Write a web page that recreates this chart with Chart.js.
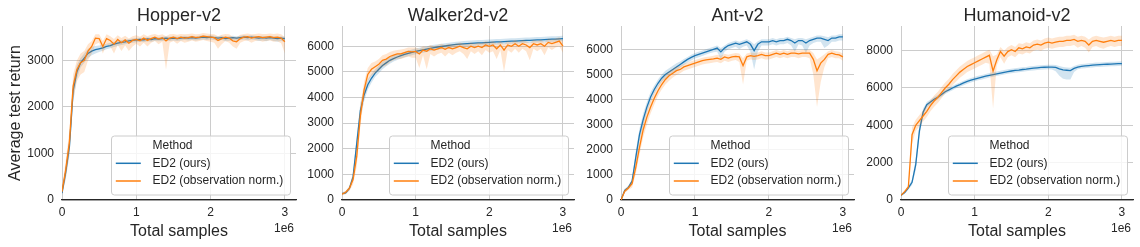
<!DOCTYPE html>
<html>
<head>
<meta charset="utf-8">
<script src="https://cdn.jsdelivr.net/npm/chart.js@4/dist/chart.umd.min.js"></script>
<style>
  body { margin: 0; background: #fff; width: 1140px; height: 247px; overflow: hidden; position: relative; }
  canvas { position: absolute; top: 0; }
</style>
</head>
<body>
<canvas id="c0" width="300" height="247" style="left:0px"></canvas>
<canvas id="c1" width="280" height="247" style="left:300px"></canvas>
<canvas id="c2" width="280" height="247" style="left:580px"></canvas>
<canvas id="c3" width="280" height="247" style="left:860px"></canvas>
<script>
// Total samples (x 1e6)
const samples = [0,0.05,0.1,0.15,0.2,0.25,0.3,0.35,0.4,0.45,0.5,0.55,0.6,0.65,0.7,0.75,0.8,0.85,0.9,0.95,
  1,1.05,1.1,1.15,1.2,1.25,1.3,1.35,1.4,1.45,1.5,1.55,1.6,1.65,1.7,1.75,1.8,1.85,1.9,1.95,
  2,2.05,2.1,2.15,2.2,2.25,2.3,2.35,2.4,2.45,2.5,2.55,2.6,2.65,2.7,2.75,2.8,2.85,2.9,2.95,3];

const xTicks = [0, 1, 2, 3];
const envNames = ["Hopper-v2", "Walker2d-v2", "Ant-v2", "Humanoid-v2"];
const methodNames = ["ED2 (ours)", "ED2 (observation norm.)"];
const yTicksHopper = [0, 1000, 2000, 3000];
const yTicksWalker = [0, 1000, 2000, 3000, 4000, 5000, 6000];
const yTicksAnt = [0, 1000, 2000, 3000, 4000, 5000, 6000];
const yTicksHumanoid = [0, 2000, 4000, 6000, 8000];

// Hopper
const hopperOurs = [150,600,1150,2350,2750,2950,3050,3150,3200,3230,3250,3270,3300,3320,3350,3370,3390,3400,3420,3430,3440,3450,3440,3460,3450,3470,3460,3470,3480,3470,3480,3470,3480,3490,3480,3490,3480,3490,3500,3490,3500,3490,3480,3490,3470,3480,3490,3480,3490,3500,3490,3500,3490,3480,3490,3480,3490,3480,3470,3480,3470];
const hopperOursLo = [100,450,950,2100,2600,2850,2950,3050,3110,3150,3180,3210,3240,3260,3290,3310,3330,3350,3370,3380,3390,3400,3390,3410,3400,3420,3410,3420,3430,3420,3430,3420,3430,3440,3430,3440,3430,3440,3450,3440,3450,3440,3420,3440,3410,3420,3440,3420,3440,3450,3430,3450,3440,3420,3430,3410,3440,3420,3400,3420,3400];
const hopperOursHi = [200,750,1350,2550,2900,3050,3150,3250,3290,3310,3320,3330,3360,3380,3400,3420,3440,3450,3460,3470,3480,3490,3480,3500,3490,3510,3500,3510,3520,3510,3520,3510,3520,3530,3520,3530,3520,3530,3540,3530,3540,3530,3520,3530,3510,3520,3530,3520,3530,3540,3530,3540,3530,3520,3530,3520,3530,3520,3510,3520,3510];
const hopperNorm = [180,650,1250,2450,2800,2950,3000,3200,3300,3480,3470,3300,3470,3430,3350,3450,3380,3440,3370,3430,3450,3420,3480,3430,3470,3500,3460,3490,3420,3480,3500,3470,3500,3480,3490,3510,3490,3500,3520,3510,3500,3490,3430,3470,3500,3480,3420,3400,3470,3500,3510,3480,3500,3510,3490,3500,3510,3490,3500,3480,3400];
const hopperNormLo = [120,450,1000,2150,2550,2700,2750,3000,3150,3350,3380,3150,3350,3300,3150,3330,3200,3320,3200,3300,3360,3300,3380,3300,3380,3420,3350,3400,2800,3380,3420,3360,3420,3380,3400,3430,3400,3420,3440,3420,3400,3380,3250,3350,3420,3380,3300,3250,3380,3420,3430,3380,3420,3430,3400,3420,3430,3400,3410,3370,3150];
const hopperNormHi = [250,850,1500,2700,3000,3150,3200,3350,3420,3560,3560,3420,3560,3520,3460,3540,3480,3530,3470,3520,3540,3510,3560,3520,3550,3570,3540,3560,3520,3560,3570,3550,3570,3560,3570,3580,3560,3570,3590,3580,3570,3560,3520,3550,3570,3560,3510,3500,3550,3570,3580,3560,3570,3580,3570,3570,3580,3570,3580,3560,3500];

// Walker2d
const walkerOurs = [250,280,450,900,2200,3500,4100,4500,4750,4950,5100,5250,5350,5450,5520,5580,5630,5680,5720,5760,5800,5830,5860,5890,5920,5950,5970,5990,6010,6030,6050,6070,6080,6090,6100,6110,6120,6130,6130,6140,6150,6160,6170,6170,6180,6190,6200,6200,6210,6220,6230,6230,6240,6250,6250,6260,6270,6280,6280,6290,6300];
const walkerOursLo = [200,220,380,750,1900,3200,3850,4300,4580,4800,4950,5100,5220,5320,5400,5460,5520,5570,5610,5650,5690,5720,5750,5780,5810,5840,5860,5880,5900,5920,5950,5970,5980,5990,6000,6010,6020,6030,6030,6040,6050,6060,6070,6070,6080,6090,6100,6100,6110,6120,6130,6130,6140,6150,6150,6160,6170,6180,6180,6190,6200];
const walkerOursHi = [300,340,520,1050,2500,3800,4350,4700,4920,5100,5250,5400,5480,5580,5640,5700,5740,5790,5830,5870,5910,5940,5970,6000,6030,6060,6080,6100,6120,6140,6160,6180,6190,6200,6210,6220,6230,6240,6240,6250,6260,6270,6280,6280,6290,6300,6310,6310,6320,6330,6340,6340,6350,6360,6360,6370,6380,6390,6390,6400,6410];
const walkerNorm = [230,300,450,800,1700,3300,4300,4900,5100,5200,5300,5450,5500,5600,5650,5700,5700,5750,5800,5780,5800,5700,5850,5800,5900,5850,5900,5950,5880,5950,5900,5950,6000,5950,5900,6000,5950,6000,5950,6050,6000,6050,5900,6050,5850,6050,6000,6100,6000,6100,6050,5950,6100,6050,6100,6000,6150,6100,6150,6200,6000];
const walkerNormLo = [180,240,350,600,1300,2900,4000,4650,4850,4950,5050,5200,5250,5380,5450,5500,5500,5550,5600,5550,5550,5150,5650,5100,5700,5600,5700,5750,5600,5750,5650,5750,5800,5700,5500,5800,5700,5800,5650,5850,5750,5800,5500,5850,5000,5850,5750,5900,5750,5900,5800,5450,5900,5800,5900,5650,5950,5850,5950,6000,5750];
const walkerNormHi = [280,360,550,1000,2100,3700,4600,5150,5350,5400,5500,5650,5700,5780,5820,5850,5870,5900,5950,5950,5950,5900,6000,5970,6050,6000,6050,6100,6050,6100,6070,6100,6150,6100,6080,6150,6100,6150,6120,6200,6150,6200,6100,6200,6080,6200,6150,6250,6150,6250,6200,6120,6250,6200,6250,6150,6300,6250,6300,6350,6200];

// Ant
const antOurs = [0,380,500,750,1700,2600,3200,3700,4100,4400,4650,4850,5000,5100,5200,5300,5400,5500,5600,5680,5750,5800,5850,5900,5950,6000,6050,5900,6050,6150,6200,6250,6200,6250,6300,6200,5950,6200,6300,6300,6300,6350,6300,6350,6350,6400,6350,6250,6350,6350,6250,6350,6400,6450,6450,6400,6350,6450,6450,6500,6500];
const antOursLo = [0,300,430,650,1450,2350,2950,3500,3900,4250,4500,4700,4850,4950,5050,5150,5280,5380,5480,5560,5640,5690,5740,5790,5840,5880,5900,5600,5900,6000,6050,6100,6000,6100,6150,5900,5200,5900,6150,6150,6150,6200,6150,6200,6200,6250,6150,5900,6200,6150,5850,6150,6250,6300,6300,6050,6150,6300,6300,6350,6350];
const antOursHi = [50,450,570,850,1950,2850,3450,3900,4300,4560,4800,5000,5150,5250,5350,5450,5520,5620,5700,5780,5850,5900,5950,6000,6050,6100,6150,6050,6150,6250,6300,6350,6300,6350,6400,6330,6200,6320,6400,6400,6400,6450,6400,6450,6450,6500,6450,6400,6450,6450,6400,6450,6500,6550,6550,6520,6480,6550,6550,6600,6600];
const antNorm = [0,350,480,650,1300,2100,2800,3300,3700,4050,4350,4600,4800,4950,5050,5150,5200,5300,5350,5400,5450,5500,5550,5580,5600,5620,5650,5600,5700,5650,5700,5720,5700,5350,5700,5750,5720,5750,5800,5750,5750,5800,5850,5800,5850,5800,5850,5850,5820,5850,5850,5850,5600,5150,5450,5600,5800,5850,5800,5780,5700];
const antNormLo = [0,280,400,500,1050,1800,2500,3000,3450,3800,4150,4400,4600,4750,4880,4980,5050,5150,5200,5250,5300,5350,5400,5430,5450,5480,5500,5450,5550,5500,5550,5580,5500,4600,5550,5600,5580,5600,5650,5600,5600,5650,5700,5650,5700,5650,5700,5700,5650,5700,5700,5650,5000,3700,4700,5300,5650,5700,5650,5650,5550];
const antNormHi = [50,420,560,800,1550,2400,3100,3600,3950,4300,4550,4800,4980,5120,5220,5300,5350,5430,5480,5530,5580,5620,5670,5700,5720,5750,5780,5750,5820,5780,5820,5850,5830,5650,5830,5870,5850,5870,5920,5870,5870,5920,5970,5920,5970,5920,5970,5970,5950,5970,5970,5970,5850,5600,5700,5800,5920,5970,5920,5900,5830];

// Humanoid
const humanoidOurs = [250,400,650,950,1900,3700,4700,5100,5250,5400,5500,5650,5800,5900,6000,6100,6180,6270,6350,6420,6480,6530,6580,6630,6680,6720,6760,6800,6840,6880,6910,6940,6960,6990,7010,7040,7060,7080,7100,7110,7120,7120,7100,7020,6970,6950,6930,7050,7120,7160,7180,7200,7220,7240,7250,7260,7270,7280,7290,7300,7310];
const humanoidOursLo = [200,330,550,800,1600,3400,4500,4950,5120,5280,5380,5530,5680,5780,5880,5980,6060,6150,6230,6300,6360,6410,6460,6510,6560,6600,6640,6680,6720,6760,6790,6820,6840,6870,6890,6920,6940,6960,6980,6990,7000,6990,6900,6650,6500,6450,6450,6850,7000,7040,7060,7080,7100,7120,7130,7140,7150,7160,7170,7180,7190];
const humanoidOursHi = [300,470,750,1100,2200,4000,4900,5250,5380,5520,5620,5770,5920,6020,6120,6220,6300,6390,6470,6540,6600,6650,6700,6750,6800,6840,6880,6920,6960,7000,7030,7060,7080,7110,7130,7160,7180,7200,7220,7230,7240,7240,7230,7180,7120,7100,7080,7180,7240,7280,7300,7320,7340,7360,7370,7380,7390,7400,7410,7420,7430];
const humanoidNorm = [250,450,700,3500,4000,4250,4500,4750,5050,5300,5500,5750,6000,6200,6450,6650,6850,7000,7150,7250,7350,7450,7550,7650,7750,6900,7500,7950,7700,7950,8050,7950,8150,8100,8200,8150,8300,8350,8300,8400,8450,8400,8450,8500,8500,8550,8550,8600,8500,8550,8500,8300,8500,8550,8500,8450,8500,8550,8500,8550,8550];
const humanoidNormLo = [200,380,600,3000,3700,3950,4200,4450,4750,5000,5200,5450,5700,5900,6150,6350,6550,6700,6850,6950,7050,7150,7250,7350,7300,4900,7200,7650,7300,7650,7750,7650,7850,7800,7900,7850,8000,8050,8000,8100,8150,8100,8150,8200,8200,8250,8250,8300,8150,8250,8150,7900,8200,8250,8150,8100,8200,8250,8200,8250,8250];
const humanoidNormHi = [300,520,800,3900,4300,4550,4800,5050,5350,5600,5800,6050,6300,6500,6750,6950,7150,7300,7450,7550,7650,7750,7850,7950,8050,7700,7800,8200,8000,8200,8300,8200,8400,8350,8450,8400,8550,8600,8550,8650,8700,8650,8700,8750,8750,8800,8800,8850,8750,8800,8750,8600,8750,8800,8750,8700,8750,8800,8750,8800,8800];

const BLUE = "#1f77b4";
const ORANGE = "#ff7f0e";
const TEXT = "#262626";
const GRID = "#cccccc";
const FONT = '"Liberation Sans", Arial, sans-serif';

Chart.defaults.font.family = FONT;
Chart.defaults.color = TEXT;

function pts(ys) {
  return samples.map((x, i) => ({ x: x, y: ys[i] }));
}

// Titel, Legende und Offset-Text "1e6"
const decor = {
  id: "decor",
  afterDraw(chart, args, opts) {
    const ctx = chart.ctx;
    const a = chart.chartArea;
    ctx.save();
    ctx.fillStyle = TEXT;
    ctx.textAlign = "center";
    ctx.textBaseline = "alphabetic";
    ctx.font = "18px " + FONT;
    ctx.fillText(opts.title, (a.left + a.right) / 2, 21);

    ctx.font = "12px " + FONT;
    ctx.textAlign = "right";
    ctx.fillText("1e6", a.right - 2, 232);

    // Legende
    const w = 179, h = 59;
    const bx = a.right - 5.5 - w, by = a.bottom - 5 - h;
    ctx.beginPath();
    ctx.roundRect(bx, by, w, h, 3);
    ctx.fillStyle = "rgba(255,255,255,0.8)";
    ctx.fill();
    ctx.strokeStyle = GRID;
    ctx.lineWidth = 1;
    ctx.stroke();

    ctx.textAlign = "left";
    ctx.textBaseline = "middle";
    ctx.fillStyle = TEXT;
    ctx.fillText("Method", bx + 41, by + 9.7);
    [[BLUE, methodNames[0], 27.3], [ORANGE, methodNames[1], 45]].forEach(([c, label, dy]) => {
      ctx.beginPath();
      ctx.moveTo(bx + 4.3, by + dy);
      ctx.lineTo(bx + 29.3, by + dy);
      ctx.strokeStyle = c;
      ctx.lineWidth = 1.5;
      ctx.stroke();
      ctx.fillStyle = TEXT;
      ctx.fillText(label, bx + 41, by + dy);
    });
    ctx.restore();
  }
};

const panels = [
  { id: "c0", title: envNames[0], yMax: 3740, yTicks: yTicksHopper, yw: 62, rp: 4, yTitle: true,
    ours: [hopperOurs, hopperOursLo, hopperOursHi], norm: [hopperNorm, hopperNormLo, hopperNormHi] },
  { id: "c1", title: envNames[1], yMax: 6790, yTicks: yTicksWalker, yw: 42, rp: 6, yTitle: false,
    ours: [walkerOurs, walkerOursLo, walkerOursHi], norm: [walkerNorm, walkerNormLo, walkerNormHi] },
  { id: "c2", title: envNames[2], yMax: 6930, yTicks: yTicksAnt, yw: 41, rp: 6, yTitle: false,
    ours: [antOurs, antOursLo, antOursHi], norm: [antNorm, antNormLo, antNormHi] },
  { id: "c3", title: envNames[3], yMax: 9320, yTicks: yTicksHumanoid, yw: 41, rp: 7, yTitle: false,
    ours: [humanoidOurs, humanoidOursLo, humanoidOursHi], norm: [humanoidNorm, humanoidNormLo, humanoidNormHi] }
];

panels.forEach(p => {
  const band = { pointRadius: 0, borderWidth: 0, tension: 0 };
  const line = { pointRadius: 0, borderWidth: 1.3, tension: 0, fill: false };
  new Chart(document.getElementById(p.id), {
    type: "line",
    data: {
      datasets: [
        { ...band, data: pts(p.ours[1]), fill: false, order: 3 },
        { ...band, data: pts(p.ours[2]), fill: "-1", backgroundColor: "rgba(31,119,180,0.2)", order: 3 },
        { ...line, data: pts(p.ours[0]), borderColor: BLUE, order: 2 },
        { ...band, data: pts(p.norm[1]), fill: false, order: 1 },
        { ...band, data: pts(p.norm[2]), fill: "-1", backgroundColor: "rgba(255,127,14,0.2)", order: 1 },
        { ...line, data: pts(p.norm[0]), borderColor: ORANGE, order: 0 }
      ]
    },
    options: {
      responsive: false,
      animation: false,
      layout: { padding: { top: 26, right: p.rp, left: 0, bottom: 0 } },
      plugins: { legend: { display: false }, tooltip: { enabled: false }, decor: { title: p.title } },
      scales: {
        x: {
          type: "linear", min: 0, max: 3.15,
          afterBuildTicks: s => { s.ticks = xTicks.map(v => ({ value: v })); },
          afterFit: s => { s.height = 47; },
          ticks: { font: { size: 12 }, color: TEXT, padding: 5, maxRotation: 0, callback: v => String(v) },
          grid: { color: GRID, drawTicks: false },
          border: { display: true, color: TEXT, width: 1.25 },
          title: { display: true, text: "Total samples", font: { size: 16 }, color: TEXT, padding: { top: 0, bottom: 6 } }
        },
        y: {
          min: 0, max: p.yMax,
          afterBuildTicks: s => { s.ticks = p.yTicks.map(v => ({ value: v })); },
          afterFit: s => { s.width = p.yw; },
          ticks: { font: { size: 12 }, color: TEXT, padding: 8, callback: v => String(v) },
          grid: { color: GRID, drawTicks: false },
          border: { display: false },
          title: { display: p.yTitle, text: "Average test return", font: { size: 16 }, color: TEXT, padding: { top: 6, bottom: 0 } }
        }
      }
    },
    plugins: [decor]
  });
});
</script>
</body>
</html>
